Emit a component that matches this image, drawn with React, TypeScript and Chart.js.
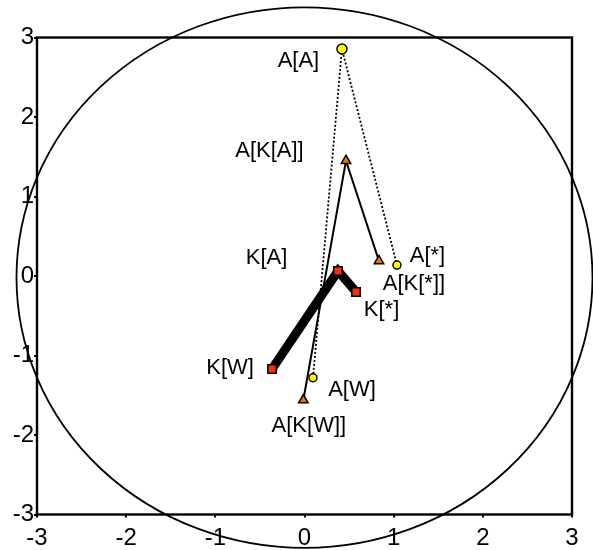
import React, { useEffect, useRef } from "react";
import { Chart, registerables } from "chart.js";

Chart.register(...registerables);

// Categories and series values
const CATEGORIES = ["W", "A", "*"];
const A_X = [0.095, 0.42, 1.037];
const A_Y = [-1.28, 2.855, 0.138];
const AK_X = [-0.013, 0.465, 0.835];
const AK_Y = [-1.56, 1.45, 0.19];
const K_X = [-0.364, 0.376, 0.578];
const K_Y = [-1.17, 0.063, -0.2];
const A_LABELS = CATEGORIES.map((c) => `A[${c}]`);
const AK_LABELS = CATEGORIES.map((c) => `A[K[${c}]]`);
const K_LABELS = CATEGORIES.map((c) => `K[${c}]`);
const TICKS = [-3, -2, -1, 0, 1, 2, 3];
const AXIS_MIN = -3;
const AXIS_MAX = 3;
// Reference ellipse (data units)
const CIRCLE_CX = 0;
const CIRCLE_CY = -0.02;
const CIRCLE_RX = 3.23;
const CIRCLE_RY = 3.4;

// Label pixel offsets (style)
const A_OFFSETS: [number, number][] = [[39, 12], [-43.5, 12], [30.5, -9]];
const AK_OFFSETS: [number, number][] = [[5.5, 26], [-76.5, -10], [35, 23]];
const K_OFFSETS: [number, number][] = [[-42, -1], [-71.5, -13], [25.5, 18]];

const FONT = '"Liberation Sans", Arial, sans-serif';

export default function App() {
  const ref = useRef<HTMLCanvasElement | null>(null);

  useEffect(() => {
    if (!ref.current) return;
    const toPts = (xs: number[], ys: number[]) => xs.map((x, i) => ({ x, y: ys[i] }));

    const frameAndCircle = {
      id: "frameAndCircle",
      beforeDatasetsDraw(chart: any) {
        const { ctx, chartArea, scales } = chart;
        const cx = scales.x.getPixelForValue(CIRCLE_CX);
        const cy = scales.y.getPixelForValue(CIRCLE_CY);
        const rx = Math.abs(scales.x.getPixelForValue(CIRCLE_CX + CIRCLE_RX) - cx);
        const ry = Math.abs(scales.y.getPixelForValue(CIRCLE_CY + CIRCLE_RY) - cy);
        ctx.save();
        ctx.strokeStyle = "#000";
        ctx.lineWidth = 1.8;
        ctx.beginPath();
        ctx.ellipse(cx, cy, rx, ry, 0, 0, Math.PI * 2);
        ctx.stroke();
        ctx.lineWidth = 2.4;
        ctx.strokeRect(chartArea.left, chartArea.top, chartArea.right - chartArea.left, chartArea.bottom - chartArea.top);
        ctx.restore();
      },
    };

    const labelsPlugin = {
      id: "pointLabels",
      afterDatasetsDraw(chart: any) {
        const { ctx } = chart;
        const sets = [
          { labels: A_LABELS, offs: A_OFFSETS },
          { labels: AK_LABELS, offs: AK_OFFSETS },
          { labels: K_LABELS, offs: K_OFFSETS },
        ];
        ctx.save();
        ctx.font = `22px ${FONT}`;
        ctx.fillStyle = "#000";
        ctx.textAlign = "center";
        ctx.textBaseline = "middle";
        sets.forEach((s, di) => {
          const meta = chart.getDatasetMeta(di);
          meta.data.forEach((el: any, i: number) => {
            ctx.fillText(s.labels[i], el.x + s.offs[i][0], el.y + s.offs[i][1]);
          });
        });
        ctx.restore();
      },
    };

    const tickFont = { family: FONT, size: 24 };

    const chart = new Chart(ref.current, {
      type: "scatter",
      data: {
        datasets: [
          {
            label: "A",
            data: toPts(A_X, A_Y),
            showLine: true,
            borderColor: "#000",
            borderWidth: 1.8,
            borderDash: [2, 2],
            pointStyle: "circle",
            pointRadius: [4, 5, 4],
            pointBackgroundColor: "#ffff00",
            pointBorderColor: "#000",
            pointBorderWidth: 1.5,
          },
          {
            label: "A[K]",
            data: toPts(AK_X, AK_Y),
            showLine: true,
            borderColor: "#000",
            borderWidth: 2,
            pointStyle: "triangle",
            pointRadius: 5.5,
            pointBackgroundColor: "#e07800",
            pointBorderColor: "#000",
            pointBorderWidth: 1.5,
          },
          {
            label: "K",
            data: toPts(K_X, K_Y),
            showLine: true,
            borderColor: "#000",
            borderWidth: 9,
            pointStyle: "rect",
            pointRadius: 6,
            pointBackgroundColor: "#f03010",
            pointBorderColor: "#000",
            pointBorderWidth: 1.5,
          },
        ],
      },
      options: {
        responsive: false,
        animation: false,
        events: [],
        layout: { padding: { left: 0, top: 37.5, right: 21, bottom: 0 } },
        plugins: {
          legend: { display: false },
          tooltip: { enabled: false },
        },
        scales: {
          x: {
            type: "linear",
            min: AXIS_MIN,
            max: AXIS_MAX,
            afterBuildTicks: (s: any) => {
              s.ticks = TICKS.map((v) => ({ value: v }));
            },
            afterFit: (s: any) => {
              s.height = 35.5;
            },
            ticks: { color: "#000", font: tickFont, padding: 6, maxRotation: 0, autoSkip: false },
            grid: { drawOnChartArea: false, drawTicks: true, tickLength: 3, color: "#000", lineWidth: 2 },
            border: { display: false },
          },
          y: {
            type: "linear",
            min: AXIS_MIN,
            max: AXIS_MAX,
            afterBuildTicks: (s: any) => {
              s.ticks = TICKS.map((v) => ({ value: v }));
            },
            afterFit: (s: any) => {
              s.width = 37;
            },
            ticks: { color: "#000", font: tickFont, padding: 0, autoSkip: false },
            grid: { drawOnChartArea: false, drawTicks: true, tickLength: 3, color: "#000", lineWidth: 2 },
            border: { display: false },
          },
        },
      },
      plugins: [frameAndCircle, labelsPlugin],
    } as any);

    return () => chart.destroy();
  }, []);

  return (
    <div style={{ position: "absolute", left: 0, top: 0, width: 593, height: 550, background: "#fff" }}>
      <canvas ref={ref} width={593} height={550} />
    </div>
  );
}
